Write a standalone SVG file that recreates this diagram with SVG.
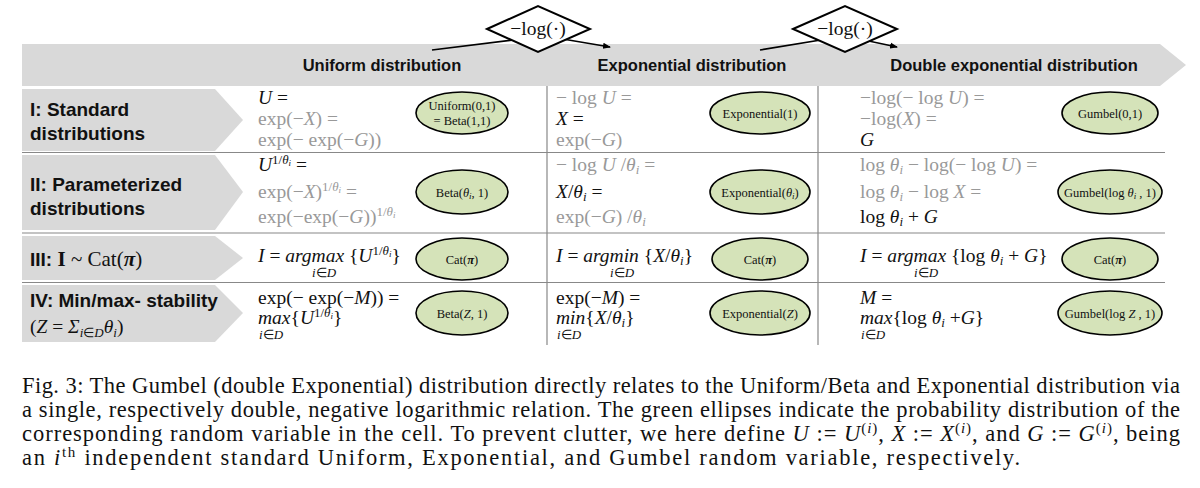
<svg xmlns="http://www.w3.org/2000/svg" width="1200" height="488" viewBox="0 0 1200 488">
<style>
.band{fill:#d9d9d9}
.hd{font-family:"Liberation Sans",Arial,sans-serif;font-weight:bold;font-size:16.5px;fill:#111}
.rl{font-family:"Liberation Sans",Arial,sans-serif;font-weight:bold;font-size:19px;fill:#111}
.m{font-family:"Liberation Serif","Times New Roman",serif;font-size:19.5px;fill:#111}
.g{fill:#999}
.i{font-style:italic}
.sm{font-size:13px}
.ell{fill:#d5e3b9;stroke:#000;stroke-width:1.6}
.el{font-family:"Liberation Serif","Times New Roman",serif;font-size:12.5px;fill:#111;text-anchor:middle}
.grid{stroke:#888;stroke-width:1.2}
.cap{font-family:"Liberation Serif","Times New Roman",serif;font-size:22.5px;fill:#111}
.dia{fill:#fff;stroke:#000;stroke-width:2}
.arr{fill:none;stroke:#000;stroke-width:1.6;marker-end:url(#ah)}
</style>
<defs>
<marker id="ah" markerWidth="8" markerHeight="8" refX="7" refY="4" orient="auto" markerUnits="userSpaceOnUse"><path d="M0,1 L8,4 L0,7 Z" fill="#000"/></marker>
</defs>
<g id="header">
<polygon class="band" points="22,44 1160,44 1186,65 1160,86 22,86"/>
<text class="hd" x="382" y="71" text-anchor="middle">Uniform distribution</text>
<text class="hd" x="692" y="71" text-anchor="middle">Exponential distribution</text>
<text class="hd" x="1014" y="71" text-anchor="middle">Double exponential distribution</text>
</g>
<g id="connectors">
<path class="arr" d="M432,50 L545,36 L610,47"/>
<path class="arr" d="M760,50 L845,36 L897,47"/>
</g>
<g id="log1">
<polygon class="dia" points="487,29 538,6 590,29 538,52"/>
<text class="m" x="538" y="35" text-anchor="middle" font-size="17">−log(·)</text>
</g>
<g id="log2">
<polygon class="dia" points="793,29 845,6 897,29 845,52"/>
<text class="m" x="845" y="35" text-anchor="middle" font-size="17">−log(·)</text>
</g>
<g id="rowlabels">
<polygon class="band" points="22,89 215,89 243,120 215,151 22,151"/>
<text class="rl" x="30" y="116">I: Standard</text>
<text class="rl" x="30" y="140">distributions</text>
<polygon class="band" points="22,155 215,155 243,192 215,230 22,230"/>
<text class="rl" x="30" y="191">II: Parameterized</text>
<text class="rl" x="30" y="215">distributions</text>
<polygon class="band" points="22,236 215,236 243,258 215,280 22,280"/>
<text class="rl" x="30" y="266">III: <tspan font-family="Liberation Serif" font-size="21">I</tspan> <tspan font-family="Liberation Serif" font-weight="normal" font-size="21">~ Cat(</tspan><tspan font-family="Liberation Serif" font-style="italic" font-size="21">π</tspan><tspan font-family="Liberation Serif" font-weight="normal" font-size="21">)</tspan></text>
<polygon class="band" points="22,285 215,285 243,313 215,342 22,342"/>
<text class="rl" x="30" y="307">IV: Min/max- stability</text>
<text class="m" x="30" y="333" font-size="21">(<tspan class="i">Z</tspan> = <tspan class="i">Σ</tspan><tspan class="i sm" dy="4">i</tspan><tspan class="sm">∈</tspan><tspan class="i sm">D</tspan><tspan class="i" dy="-4">θ</tspan><tspan class="i sm" dy="4">i</tspan><tspan dy="-4">)</tspan></text>
</g>
<g id="grid">
<line class="grid" x1="22" y1="152.5" x2="1165" y2="152.5"/>
<line class="grid" x1="22" y1="233" x2="1165" y2="233"/>
<line class="grid" x1="22" y1="282.5" x2="1165" y2="282.5"/>
<line class="grid" x1="547" y1="86" x2="547" y2="345"/>
<line class="grid" x1="818" y1="86" x2="818" y2="345"/>
</g>
<g id="col1">
<text class="m" x="258" y="104"><tspan class="i">U</tspan> =</text>
<text class="m g" x="258" y="125">exp(−<tspan class="i">X</tspan>) =</text>
<text class="m g" x="258" y="146">exp(− exp(−<tspan class="i">G</tspan>))</text>
<text class="m" x="258" y="171"><tspan class="i">U</tspan><tspan class="sm" dy="-7">1/</tspan><tspan class="sm i">θ</tspan><tspan class="i" font-size="9" dy="2">i</tspan><tspan dy="5"> =</tspan></text>
<text class="m g" x="258" y="198">exp(−<tspan class="i">X</tspan>)<tspan class="sm" dy="-7">1/</tspan><tspan class="sm i">θ</tspan><tspan class="i" font-size="9" dy="2">i</tspan><tspan dy="5"> =</tspan></text>
<text class="m g" x="258" y="223">exp(−exp(−<tspan class="i">G</tspan>))<tspan class="sm" dy="-7">1/</tspan><tspan class="sm i">θ</tspan><tspan class="i" font-size="9" dy="2">i</tspan></text>
<text class="m" x="258" y="262"><tspan class="i">I</tspan> =  <tspan class="i">argmax</tspan> {<tspan class="i">U</tspan><tspan class="sm" dy="-7">1/</tspan><tspan class="sm i">θ</tspan><tspan class="i" font-size="9" dy="2">i</tspan><tspan dy="5">}</tspan></text>
<text class="m sm" x="312" y="277"><tspan class="i">i</tspan>∈<tspan class="i">D</tspan></text>
<text class="m" x="258" y="304">exp(− exp(−<tspan class="i">M</tspan>)) =</text>
<text class="m" x="258" y="324"><tspan class="i">max</tspan>{<tspan class="i">U</tspan><tspan class="sm" dy="-7">1/</tspan><tspan class="sm i">θ</tspan><tspan class="i" font-size="9" dy="2">i</tspan><tspan dy="5">}</tspan></text>
<text class="m sm" x="259" y="339"><tspan class="i">i</tspan>∈<tspan class="i">D</tspan></text>
</g>
<g id="col2">
<text class="m g" x="556" y="104">− log <tspan class="i">U</tspan> =</text>
<text class="m" x="556" y="125"><tspan class="i">X</tspan> =</text>
<text class="m g" x="556" y="146">exp(−<tspan class="i">G</tspan>)</text>
<text class="m g" x="556" y="171">− log <tspan class="i">U</tspan> /<tspan class="i">θ</tspan><tspan class="i sm" dy="3">i</tspan><tspan dy="-3"> =</tspan></text>
<text class="m" x="556" y="198"><tspan class="i">X</tspan>/<tspan class="i">θ</tspan><tspan class="i sm" dy="3">i</tspan><tspan dy="-3"> =</tspan></text>
<text class="m g" x="556" y="223">exp(−<tspan class="i">G</tspan>) /<tspan class="i">θ</tspan><tspan class="i sm" dy="3">i</tspan></text>
<text class="m" x="556" y="262"><tspan class="i">I</tspan> =  <tspan class="i">argmin</tspan> {<tspan class="i">X</tspan>/<tspan class="i">θ</tspan><tspan class="i sm" dy="3">i</tspan><tspan dy="-3">}</tspan></text>
<text class="m sm" x="610" y="277"><tspan class="i">i</tspan>∈<tspan class="i">D</tspan></text>
<text class="m" x="556" y="304">exp(−<tspan class="i">M</tspan>) =</text>
<text class="m" x="556" y="324"><tspan class="i">min</tspan>{<tspan class="i">X</tspan>/<tspan class="i">θ</tspan><tspan class="i sm" dy="3">i</tspan><tspan dy="-3">}</tspan></text>
<text class="m sm" x="557" y="339"><tspan class="i">i</tspan>∈<tspan class="i">D</tspan></text>
</g>
<g id="col3">
<text class="m g" x="860" y="104">−log(− log <tspan class="i">U</tspan>) =</text>
<text class="m g" x="860" y="125">−log(<tspan class="i">X</tspan>) =</text>
<text class="m" x="860" y="146"><tspan class="i">G</tspan></text>
<text class="m g" x="860" y="171">log <tspan class="i">θ</tspan><tspan class="i sm" dy="3">i</tspan><tspan dy="-3"> − log(− log <tspan class="i">U</tspan>) =</tspan></text>
<text class="m g" x="860" y="198">log <tspan class="i">θ</tspan><tspan class="i sm" dy="3">i</tspan><tspan dy="-3"> − log <tspan class="i">X</tspan> =</tspan></text>
<text class="m" x="860" y="223">log <tspan class="i">θ</tspan><tspan class="i sm" dy="3">i</tspan><tspan dy="-3"> + <tspan class="i">G</tspan></tspan></text>
<text class="m" x="860" y="262"><tspan class="i">I</tspan> =  <tspan class="i">argmax</tspan> {log <tspan class="i">θ</tspan><tspan class="i sm" dy="3">i</tspan><tspan dy="-3"> + <tspan class="i">G</tspan>}</tspan></text>
<text class="m sm" x="914" y="277"><tspan class="i">i</tspan>∈<tspan class="i">D</tspan></text>
<text class="m" x="860" y="304"><tspan class="i">M</tspan> =</text>
<text class="m" x="860" y="324"><tspan class="i">max</tspan>{log <tspan class="i">θ</tspan><tspan class="i sm" dy="3">i</tspan><tspan dy="-3"> +<tspan class="i">G</tspan>}</tspan></text>
<text class="m sm" x="861" y="339"><tspan class="i">i</tspan>∈<tspan class="i">D</tspan></text>
</g>
<g id="e-uniform"><ellipse class="ell" cx="462" cy="113" rx="46" ry="21"/><text class="el" x="462" y="110">Uniform(0,1)</text><text class="el" x="462" y="125">= Beta(1,1)</text></g>
<g id="e-beta"><ellipse class="ell" cx="462" cy="192" rx="46" ry="22"/><text class="el" x="462" y="197">Beta(<tspan class="i">θ</tspan><tspan class="i" font-size="9" dy="2">i</tspan><tspan dy="-2">, 1)</tspan></text></g>
<g id="e-cat1"><ellipse class="ell" cx="462" cy="259" rx="46" ry="21"/><text class="el" x="462" y="264">Cat(<tspan font-weight="bold" class="i">π</tspan>)</text></g>
<g id="e-betaZ"><ellipse class="ell" cx="462" cy="313" rx="46" ry="22"/><text class="el" x="462" y="318">Beta(<tspan class="i">Z</tspan>, 1)</text></g>
<g id="e-exp1"><ellipse class="ell" cx="760" cy="113" rx="50" ry="21"/><text class="el" x="760" y="118">Exponential(1)</text></g>
<g id="e-expth"><ellipse class="ell" cx="760" cy="192" rx="50" ry="22"/><text class="el" x="760" y="197">Exponential(<tspan class="i">θ</tspan><tspan class="i" font-size="9" dy="2">i</tspan><tspan dy="-2">)</tspan></text></g>
<g id="e-cat2"><ellipse class="ell" cx="760" cy="259" rx="48" ry="21"/><text class="el" x="760" y="264">Cat(<tspan font-weight="bold" class="i">π</tspan>)</text></g>
<g id="e-expZ"><ellipse class="ell" cx="760" cy="313" rx="50" ry="22"/><text class="el" x="760" y="318">Exponential(<tspan class="i">Z</tspan>)</text></g>
<g id="e-gum1"><ellipse class="ell" cx="1110" cy="113" rx="48" ry="21"/><text class="el" x="1110" y="118">Gumbel(0,1)</text></g>
<g id="e-gumth"><ellipse class="ell" cx="1110" cy="192" rx="52" ry="22"/><text class="el" x="1110" y="197">Gumbel(log <tspan class="i">θ</tspan><tspan class="i" font-size="9" dy="2">i</tspan><tspan dy="-2"> , 1)</tspan></text></g>
<g id="e-cat3"><ellipse class="ell" cx="1110" cy="259" rx="48" ry="21"/><text class="el" x="1110" y="264">Cat(<tspan font-weight="bold" class="i">π</tspan>)</text></g>
<g id="e-gumZ"><ellipse class="ell" cx="1110" cy="313" rx="52" ry="22"/><text class="el" x="1110" y="318">Gumbel(log <tspan class="i">Z</tspan> , 1)</text></g>
<g id="caption">
<text class="cap" x="22" y="393" textLength="1158" lengthAdjust="spacing">Fig. 3: The Gumbel (double Exponential) distribution directly relates to the Uniform/Beta and Exponential distribution via</text>
<text class="cap" x="22" y="417" textLength="1158" lengthAdjust="spacing">a single, respectively double, negative logarithmic relation. The green ellipses indicate the probability distribution of the</text>
<text class="cap" x="22" y="441" textLength="1158" lengthAdjust="spacing">corresponding random variable in the cell. To prevent clutter, we here define <tspan font-style="italic">U</tspan> := <tspan font-style="italic">U</tspan><tspan font-size="15" dy="-8">(<tspan font-style="italic">i</tspan>)</tspan><tspan dy="8">, </tspan><tspan font-style="italic">X</tspan> := <tspan font-style="italic">X</tspan><tspan font-size="15" dy="-8">(<tspan font-style="italic">i</tspan>)</tspan><tspan dy="8">, and </tspan><tspan font-style="italic">G</tspan> := <tspan font-style="italic">G</tspan><tspan font-size="15" dy="-8">(<tspan font-style="italic">i</tspan>)</tspan><tspan dy="8">, being</tspan></text>
<text class="cap" x="22" y="465" textLength="998" lengthAdjust="spacing">an <tspan font-style="italic">i</tspan><tspan font-size="15" dy="-8">th</tspan><tspan dy="8"> independent standard Uniform, Exponential, and Gumbel random variable, respectively.</tspan></text>
</g>
</svg>
